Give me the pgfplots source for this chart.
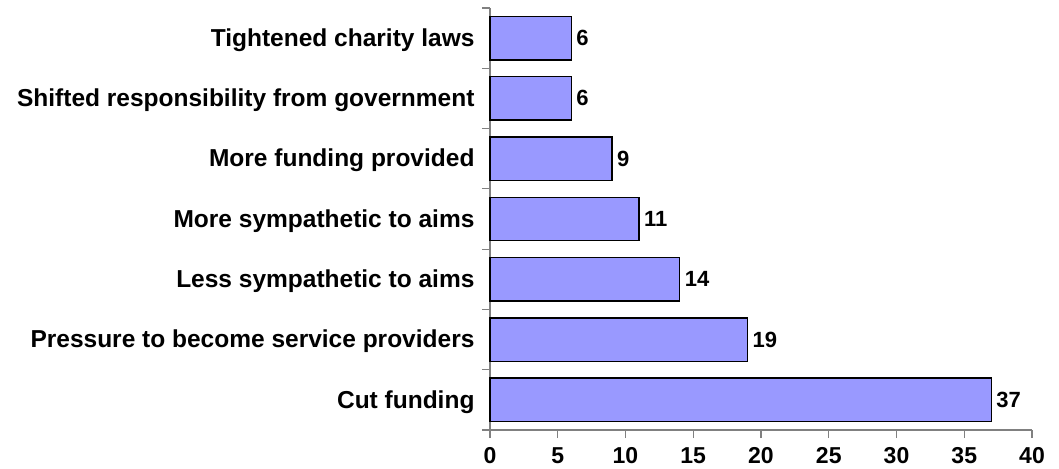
\documentclass[border=0pt]{standalone}
\usepackage{fontspec}
\setmainfont{Liberation Sans}
\usepackage{pgfplots}
\pgfplotsset{compat=1.18}
\definecolor{barblue}{HTML}{9999FF}
\definecolor{axisgray}{HTML}{808080}
\begin{document}
\begin{tikzpicture}
\useasboundingbox (0,0) rectangle (1059bp,469bp);
\begin{axis}[
  at={(490bp,39bp)}, anchor=south west,
  scale only axis, width=542bp, height=422bp,
  xbar, bar width=0.72,
  xmin=0, xmax=40, ymin=-0.5, ymax=6.5,
  xtick={0,5,...,40},
  ytick={-0.5,0.5,...,6.5},
  yticklabels={},
  extra y ticks={0,1,2,3,4,5,6},
  extra y tick labels={Cut funding, Pressure to become service providers, Less sympathetic to aims, More sympathetic to aims, More funding provided, Shifted responsibility from government, Tightened charity laws},
  extra y tick style={major tick length=0pt},
  axis x line=bottom, axis y line=left,
  axis line style={axisgray, line width=1.2bp, -},
  tick align=outside,
  tick style={axisgray, line width=1.2bp},
  major tick length=8bp,
  /pgf/number format/assume math mode=true,
  xticklabel style={font=\fontsize{23bp}{27bp}\selectfont\bfseries, yshift=-6bp},
  yticklabel style={font=\fontsize{24.5bp}{28bp}\selectfont\bfseries, xshift=-12bp, yshift=-2bp},
  nodes near coords,
  nodes near coords style={font=\fontsize{22bp}{26bp}\selectfont\bfseries, black, xshift=1bp},
  clip=false,
]
\addplot[fill=barblue, draw=black, line width=1.5bp]
  coordinates {(37,0) (19,1) (14,2) (11,3) (9,4) (6,5) (6,6)};
\end{axis}
\end{tikzpicture}
\end{document}
